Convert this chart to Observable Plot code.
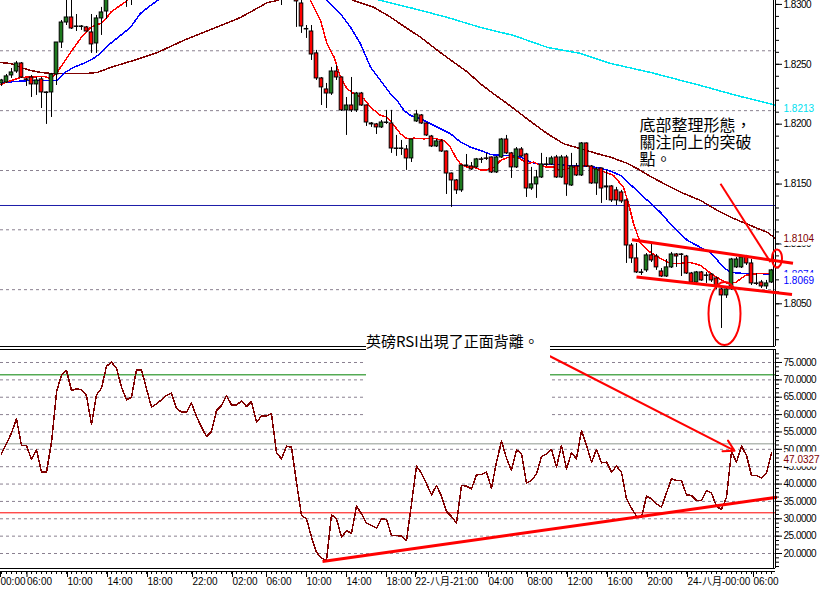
<!DOCTYPE html>
<html>
<head>
<meta charset="utf-8">
<script src="https://cdn.jsdelivr.net/npm/d3@7"></script>
<script src="https://cdn.jsdelivr.net/npm/@observablehq/plot@0.6"></script>
<style>
  html, body { margin: 0; padding: 0; background: #fff; }
  #wrap { position: relative; width: 820px; height: 589px; overflow: hidden; background: #fff; }
  #wrap svg { position: absolute; left: 0; }
  #wrap g[aria-label="y-axis tick label"], #wrap g[aria-label="tag"] { letter-spacing: -0.5px; }
  #wrap g[aria-label="line"] path { shape-rendering: crispEdges; }
  #note { position: absolute; left: 366px; top: 331px; width: 184px; height: 97px; background: #fff;
          font-family: "Noto Sans CJK TC", "Noto Sans CJK SC", sans-serif; font-size: 15px; line-height: 15px;
          padding-top: 2px; box-sizing: border-box; white-space: nowrap; color: #000; }
</style>
</head>
<body>
<div id="wrap"><div id="note">英磅RSI出現了正面背離。</div></div>
<script>
// ---------------- DATA ----------------
// candlesticks (30-minute bars, bar index = position on the time axis)
const candleBar = [0,1,2,3,4,5,6,7,8,9,10,11,12,13,14,15,16,17,18,19,20,21,22,23,24,25,26,
  56,57,58,59,60,61,62,63,64,65,66,67,68,69,70,71,72,73,74,75,76,77,78,79,80,81,82,83,84,85,86,87,88,89,
  90,91,92,93,94,95,96,97,98,99,100,101,102,103,104,105,106,107,108,109,110,111,112,113,114,115,116,117,118,119,
  120,121,122,123,124,125,126,127,128,129,130,131,132,133,134,135,136,137,138,139,140,141,142,143,144,145,146,147,148,149,
  150,151,152,153,154];
const candleOpen = [1.82340,1.82348,1.82407,1.82440,1.82507,1.82374,1.82390,1.82332,1.82374,1.82265,1.82265,1.82415,1.82682,1.82849,1.82891,1.82816,1.82812,1.82808,1.82766,1.82674,1.82883,1.82941,1.83058,1.83200,1.83150,1.83120,1.83080,
  1.83150,1.83100,1.83120,1.83075,1.83008,1.82791,1.82774,1.82591,1.82382,1.82290,1.82256,1.82440,1.82390,1.82115,1.82156,1.82115,1.82256,1.82156,1.82006,1.81998,1.81973,1.82014,1.82006,1.81797,1.81793,1.81789,1.81714,1.82023,1.82073,1.82006,1.81897,1.81814,1.81856,1.81772,
  1.81588,1.81530,1.81447,1.81655,1.81647,1.81639,1.81706,1.81714,1.81722,1.81597,1.81722,1.81872,1.81756,1.81639,1.81789,1.81747,1.81463,1.81497,1.81555,1.81664,1.81664,1.81722,1.81555,1.81722,1.81488,1.81647,1.81572,1.81839,1.81647,1.81505,
  1.81630,1.81472,1.81480,1.81447,1.81430,1.81363,1.80987,1.80879,1.80762,1.80779,1.80904,1.80895,1.80770,1.80728,1.80804,1.80912,1.80912,1.80895,1.80753,1.80678,1.80762,1.80737,1.80745,1.80712,1.80620,1.80570,1.80620,1.80804,1.80804,1.80895,
  1.80837,1.80670,1.80678,1.80645,1.80678];
const candleHigh = [1.82374,1.82415,1.82465,1.82524,1.82515,1.82382,1.82407,1.82390,1.82390,1.82270,1.82424,1.82682,1.82866,1.83050,1.83058,1.82916,1.82824,1.82816,1.82916,1.82908,1.82975,1.83100,1.83284,1.83300,1.83250,1.83200,1.83180,
  1.83250,1.83200,1.83200,1.83117,1.83040,1.82824,1.82824,1.82616,1.82390,1.82340,1.82474,1.82490,1.82395,1.82223,1.82390,1.82265,1.82265,1.82160,1.82014,1.82006,1.82031,1.82115,1.82115,1.81906,1.81864,1.81822,1.81872,1.82115,1.82081,1.82010,1.81906,1.81872,1.81872,1.81776,
  1.81592,1.81538,1.81655,1.81747,1.81680,1.81714,1.81722,1.81756,1.81726,1.81731,1.81881,1.81906,1.81764,1.81805,1.81805,1.81756,1.81639,1.81614,1.81756,1.81722,1.81731,1.81739,1.81739,1.81739,1.81756,1.81672,1.81847,1.81843,1.81655,1.81639,
  1.81634,1.81614,1.81488,1.81472,1.81447,1.81367,1.81004,1.81004,1.80787,1.80920,1.81004,1.80912,1.80795,1.80870,1.80929,1.80920,1.80920,1.80904,1.80762,1.80770,1.80770,1.80762,1.80753,1.80720,1.80628,1.80637,1.80879,1.80887,1.80904,1.80904,
  1.80870,1.80753,1.80695,1.80695,1.80787];
const candleLow = [1.82315,1.82340,1.82382,1.82424,1.82382,1.82315,1.82223,1.82240,1.82131,1.81998,1.82056,1.82323,1.82632,1.82824,1.82791,1.82774,1.82783,1.82766,1.82591,1.82591,1.82741,1.82874,1.83045,1.83100,1.83060,1.82975,1.82991,
  1.82991,1.83050,1.83060,1.82808,1.82758,1.82716,1.82532,1.82365,1.82156,1.82131,1.82240,1.82365,1.82106,1.81906,1.82098,1.82098,1.82148,1.81981,1.81973,1.81914,1.81964,1.81998,1.81756,1.81731,1.81739,1.81614,1.81680,1.82014,1.81998,1.81897,1.81805,1.81805,1.81764,1.81413,
  1.81305,1.81413,1.81430,1.81639,1.81614,1.81630,1.81672,1.81697,1.81588,1.81588,1.81714,1.81747,1.81547,1.81630,1.81722,1.81388,1.81447,1.81380,1.81547,1.81647,1.81655,1.81547,1.81547,1.81397,1.81480,1.81563,1.81563,1.81639,1.81497,1.81405,
  1.81338,1.81363,1.81346,1.81321,1.81338,1.80837,1.80837,1.80753,1.80737,1.80762,1.80845,1.80779,1.80720,1.80720,1.80795,1.80804,1.80728,1.80745,1.80670,1.80670,1.80687,1.80670,1.80678,1.80620,1.80294,1.80545,1.80612,1.80795,1.80795,1.80820,
  1.80653,1.80653,1.80628,1.80620,1.80670];
const candleClose = [1.82365,1.82399,1.82432,1.82507,1.82390,1.82370,1.82332,1.82365,1.82265,1.82260,1.82415,1.82682,1.82849,1.82891,1.82799,1.82812,1.82816,1.82774,1.82666,1.82883,1.82933,1.83058,1.83200,1.83150,1.83120,1.83080,1.83140,
  1.83100,1.83120,1.83080,1.83025,1.82816,1.82795,1.82582,1.82382,1.82307,1.82256,1.82440,1.82390,1.82115,1.82156,1.82115,1.82256,1.82156,1.82014,1.81998,1.81973,1.82014,1.82010,1.81797,1.81793,1.81797,1.81714,1.81872,1.82081,1.82006,1.81906,1.81814,1.81856,1.81772,1.81588,
  1.81530,1.81447,1.81655,1.81651,1.81622,1.81706,1.81702,1.81710,1.81597,1.81722,1.81872,1.81756,1.81639,1.81789,1.81731,1.81463,1.81497,1.81555,1.81664,1.81660,1.81714,1.81555,1.81722,1.81497,1.81647,1.81572,1.81839,1.81647,1.81505,1.81622,
  1.81463,1.81480,1.81363,1.81363,1.81355,1.80987,1.80879,1.80762,1.80758,1.80904,1.80862,1.80804,1.80728,1.80804,1.80912,1.80895,1.80908,1.80753,1.80678,1.80762,1.80695,1.80733,1.80695,1.80645,1.80570,1.80620,1.80870,1.80870,1.80887,1.80837,
  1.80670,1.80666,1.80645,1.80670,1.80779];

// moving averages (bar position, price)
const maFastBar = [-0.2,3.8,8.4,9.8,10.8,11.8,13.8,15.8,17.8,19.8,20.8,21.8,23.2,25.2,27,60.8,61.8,63.8,65.1,66.5,67.8,69.1,70.5,72.5,73.8,75.8,77.1,78.5,79.8,81.1,82.5,84.5,86.5,88.5,89.8,90.8,91.8,93.1,94.5,95.8,97.1,98.5,99.8,101.1,102.5,103.8,105.1,106.5,107.8,109.1,110.5,111.8,113.1,114.5,115.8,117.1,118.5,119.8,122.4,124.4,125.4,126.4,127.8,129.8,131.8,133.8,135.8,137.8,139.8,142.4,145.2,146.8,148.8,151.2,153.8];
const maFastValue = [1.82332,1.82390,1.82399,1.82382,1.82415,1.82474,1.82599,1.82716,1.82808,1.82841,1.82874,1.82933,1.82975,1.83033,1.83158,1.83117,1.83033,1.82866,1.82672,1.82560,1.82393,1.82296,1.82254,1.82212,1.82142,1.82073,1.82059,1.81989,1.81920,1.81878,1.81883,1.81878,1.81881,1.81864,1.81808,1.81725,1.81669,1.81641,1.81641,1.81619,1.81619,1.81641,1.81697,1.81720,1.81725,1.81711,1.81669,1.81683,1.81655,1.81641,1.81641,1.81613,1.81628,1.81641,1.81650,1.81655,1.81628,1.81613,1.81572,1.81472,1.81338,1.81171,1.81004,1.80929,1.80879,1.80837,1.80837,1.80845,1.80820,1.80737,1.80670,1.80678,1.80737,1.80753,1.80753];
const maMidBar = [-0.2,5.8,11.2,12.4,14.4,16.4,18.4,19.8,21.8,23.8,25.8,27.8,29.8,31.2,32.8,63.8,65.1,67.8,69.8,71.8,73.8,75.8,77.8,79.1,80.5,81.8,83.8,85.8,87.8,89.8,91.8,93.8,95.8,97.8,99.8,101.8,103.8,105.8,107.8,109.8,111.8,113.8,115.8,117.8,119.8,121.8,123.8,126.4,129.2,131.8,134.4,137.2,139.8,141.8,143.2,144.4,145.8,148.4,151.8,153.8];
const maMidValue = [1.82348,1.82365,1.82365,1.82424,1.82474,1.82507,1.82549,1.82591,1.82674,1.82741,1.82808,1.82925,1.82991,1.83033,1.83100,1.83117,1.83033,1.82922,1.82810,1.82672,1.82476,1.82365,1.82254,1.82198,1.82115,1.82073,1.82045,1.82004,1.81962,1.81920,1.81850,1.81808,1.81781,1.81747,1.81739,1.81739,1.81725,1.81683,1.81661,1.81664,1.81661,1.81653,1.81655,1.81647,1.81633,1.81608,1.81572,1.81472,1.81363,1.81263,1.81138,1.81029,1.80971,1.80929,1.80862,1.80804,1.80762,1.80753,1.80753,1.80745];
const maSlowBar = [-0.2,1.8,3.8,5.8,7.8,9.8,13.2,17.2,19.2,21.8,26.4,31.2,36.4,42.4,47.8,53.2,55.2,57,68.8,70.4,74.4,77.8,81.2,83.8,87.2,90.4,93.2,95.8,98.4,101.2,103.8,106.4,109.2,112.4,115.8,119.2,121.8,125.2,127.8,129.8,133.2,136.4,139.8,143.2,146.4,149.8,153.2,154.8];
const maSlowValue = [1.82515,1.82507,1.82474,1.82449,1.82432,1.82424,1.82424,1.82424,1.82432,1.82474,1.82532,1.82599,1.82699,1.82799,1.82891,1.83016,1.83033,1.83110,1.83090,1.83033,1.82977,1.82894,1.82797,1.82727,1.82616,1.82518,1.82435,1.82337,1.82254,1.82170,1.82087,1.82004,1.81920,1.81837,1.81795,1.81753,1.81725,1.81672,1.81614,1.81563,1.81488,1.81422,1.81363,1.81280,1.81213,1.81154,1.81096,1.81045];
const maLongBar = [73.8,75.8,82.4,89.2,95.8,102.4,109.2,115.8,121.8,129.8,139.8,147.8,154.8];
const maLongValue = [1.83058,1.83033,1.82966,1.82891,1.82808,1.82741,1.82641,1.82591,1.82507,1.82432,1.82323,1.82231,1.82160];

// RSI, one value per bar
const rsiValue = [48.70,51.58,54.75,58.78,51.10,51.10,47.07,49.86,43.43,43.43,
  52.06,66.46,71.45,72.70,66.94,67.42,67.13,65.50,57.15,65.69,
  67.61,73.94,75.10,73.37,67.90,64.25,65.02,72.89,72.89,67.42,
  62.14,63.10,64.25,65.50,66.17,61.85,60.70,60.70,63.29,59.45,
  56.38,53.69,55.13,61.18,62.62,65.50,62.81,62.81,63.87,62.33,
  63.77,57.82,59.55,59.64,60.22,48.99,47.26,50.91,50.62,40.55,
  30.95,29.99,24.71,20.39,18.67,17.99,31.14,29.99,24.71,26.54,
  25.86,33.64,31.43,28.74,28.07,27.30,29.99,29.80,25.19,25.19,
  25.00,23.75,34.31,45.15,43.14,40.07,36.90,39.59,36.52,32.10,
  30.66,28.74,39.59,39.40,38.63,42.66,42.75,43.43,38.82,46.31,
  52.35,47.46,43.91,49.86,48.70,40.26,41.03,42.95,47.94,48.70,
  49.95,44.87,51.10,44.39,48.99,47.26,55.42,51.10,46.31,49.95,
  46.11,46.31,43.43,45.15,43.43,35.75,33.06,30.76,30.47,36.52,
  35.75,34.31,33.35,37.48,41.51,41.03,41.03,36.90,36.71,35.27,
  35.27,38.15,37.38,33.54,32.68,36.23,49.38,46.31,50.91,48.22,
  42.47,42.47,41.70,43.24,48.99];

// horizontal levels
const priceGrid = [1.82613,1.82113,1.81613,1.81118,1.80618];
const priceHLine = [1.81321];
const rsiGrid = [75,70,65,60,55,50,45,40,35,30,25,20];
const rsiLevelValue = [71.45, 51.58, 31.72];
const rsiLevelColor = ["#008000", "#8f988f", "#ff0000"];

// axis ticks and labels
const priceTicks = [1.8050,1.8100,1.8150,1.8200,1.8250,1.8300];
const rsiTicks = [20,25,30,35,40,45,50,55,60,65,70,75];
const priceTagValue = [1.82130, 1.81040, 1.80741, 1.80690];
const priceTagText = ["1.8213", "1.8104", "1.8074", "1.8069"];
const priceTagColor = ["#00e0f0", "#800000", "#0000ff", "#0000ff"];
const rsiTagValue = [47.0327];
const rsiTagText = ["47.0327"];
const timeTickBar = [-0.2,5.1,13.2,21.2,29.2,38.2,46.2,53,61,69,77,82.8,97.4,105.2,113.2,121.2,129.2,137.2,150.4];
const timeTickLabel = ["00:00","06:00","10:00","14:00","18:00","22:00","02:00","06:00","10:00","14:00","18:00",
  "22-八月-21:00","04:00","08:00","12:00","16:00","20:00","24-八月-00:00","06:00"];

// hand-drawn annotations
const priceLineBar1 = [126.1, 127.0, 143.8];
const priceLineValue1 = [1.81035, 1.80723, 1.81502];
const priceLineBar2 = [158.3, 158.1, 153.8];
const priceLineValue2 = [1.80839, 1.80578, 1.80848];
const priceLineWidth = [3, 3, 2];
const ellipseBar = [155.1, 144.6];
const ellipseValue = [1.80879, 1.80419];
const priceNote = "底部整理形態，\n關注向上的突破\n點。";
const priceNoteBar = 127.6, priceNoteValue = 1.82043;
const rsiTrendBar = [64.2, 155.1], rsiTrendValue = [17.7, 36.2];
const rsiArrowBar = [109.7, 146.6], rsiArrowValue = [76.8, 49.6];

// ---------------- CHART ----------------
const xDomain = [-0.2, 154.8];
const priceDomain = [1.801434, 1.830328];
const rsiDomain = [15.685, 78.743];
const BULL = "#1d7a1d", BEAR = "#ff0000";
const baseStyle = {background: "transparent", overflow: "visible", fontFamily: "'Liberation Sans', Arial, 'Noto Sans CJK SC', sans-serif", fontSize: "10px", color: "#000"};

const candles = candleBar.map((b, i) => ({bar: b, open: candleOpen[i], high: candleHigh[i], low: candleLow[i], close: candleClose[i]}));
const pts = (bars, vals) => bars.map((b, i) => ({bar: b, value: vals[i]}));
const priceLines = priceLineBar1.map((b, i) => ({b1: b, v1: priceLineValue1[i], b2: priceLineBar2[i], v2: priceLineValue2[i], w: priceLineWidth[i]}));

function ellipseSymbol(rx, ry) {
  const k = 0.5522847498;
  return {draw(ctx) {
    ctx.moveTo(rx, 0);
    ctx.bezierCurveTo(rx, ry * k, rx * k, ry, 0, ry);
    ctx.bezierCurveTo(-rx * k, ry, -rx, ry * k, -rx, 0);
    ctx.bezierCurveTo(-rx, -ry * k, -rx * k, -ry, 0, -ry);
    ctx.bezierCurveTo(rx * k, -ry, rx, -ry * k, rx, 0);
    ctx.closePath();
  }};
}

const topChart = Plot.plot({
  width: 820, height: 347, marginLeft: 0, marginRight: 45, marginTop: 0, marginBottom: 1,
  x: {domain: xDomain, axis: null},
  y: {domain: priceDomain, axis: null},
  style: baseStyle,
  marks: [
    Plot.ruleY(priceGrid, {stroke: "#8a8090", strokeDasharray: "3,3"}),
    Plot.ruleY(priceHLine, {stroke: "#1c1ca8"}),
    Plot.line(pts(maLongBar, maLongValue), {x: "bar", y: "value", stroke: "#00e5f0", clip: true}),
    Plot.line(pts(maSlowBar, maSlowValue), {x: "bar", y: "value", stroke: "#800000", clip: true}),
    Plot.line(pts(maMidBar, maMidValue), {x: "bar", y: "value", stroke: "#0000ff", clip: true}),
    Plot.line(pts(maFastBar, maFastValue), {x: "bar", y: "value", stroke: "#ff0000", clip: true}),
    Plot.ruleX(candles, {x: "bar", y1: "low", y2: "high", stroke: "#000", clip: true}),
    Plot.rect(candles, {x1: d => d.bar - 0.36, x2: d => d.bar + 0.36, y1: "open", y2: "close",
      fill: d => d.close >= d.open ? BULL : BEAR, stroke: "#000", clip: true}),
    Plot.text([priceNote], {x: priceNoteBar, y: priceNoteValue, text: d => d, textAnchor: "start", lineAnchor: "top",
      lineHeight: 1.07, fontSize: 16, fontFamily: "'Noto Sans CJK TC', 'Noto Sans CJK SC', sans-serif", fill: "#000"}),
    // right price axis
    Plot.axisY({anchor: "right", label: null, ticks: d3.range(1.802, 1.8305, 0.001), tickSize: 3, tickFormat: () => ""}),
    Plot.axisY({anchor: "right", label: null, ticks: priceTicks, tickSize: 6, tickPadding: 2, tickFormat: d => d.toFixed(4)}),
    Plot.text(priceTagValue, {y: d => d, text: (d, i) => priceTagText[i], fill: (d, i) => priceTagColor[i], ariaLabel: "tag",
      frameAnchor: "right", dx: 8, textAnchor: "start", stroke: "#fff", strokeWidth: 7, paintOrder: "stroke"}),
    // frame
    Plot.ruleX([154.4, 154.8], {stroke: "#000"}),
    Plot.ruleY([priceDomain[0]], {stroke: "#000"}),
    // annotations
    Plot.link(priceLines, {x1: "b1", y1: "v1", x2: "b2", y2: "v2", stroke: "#ff0000", strokeWidth: "w"}),
    Plot.dot([0], {x: ellipseBar[0], y: ellipseValue[0], symbol: ellipseSymbol(5, 9), stroke: "#ff0000", strokeWidth: 2, fill: "none"}),
    Plot.dot([0], {x: ellipseBar[1], y: ellipseValue[1], symbol: ellipseSymbol(16, 31.5), stroke: "#ff0000", strokeWidth: 2, fill: "none"})
  ]
});

const rsiLevels = rsiLevelValue.map((v, i) => ({value: v, color: rsiLevelColor[i]}));
const bottomChart = Plot.plot({
  width: 820, height: 242, marginLeft: 0, marginRight: 45, marginTop: 2, marginBottom: 21,
  x: {domain: xDomain, axis: null},
  y: {domain: rsiDomain, axis: null},
  style: baseStyle,
  marks: [
    Plot.ruleY(rsiGrid, {stroke: "#8a8090", strokeDasharray: "3,3"}),
    Plot.ruleY(rsiLevels, {y: "value", stroke: "color"}),
    Plot.line(rsiValue.map((v, i) => ({bar: i, value: v})), {x: "bar", y: "value", stroke: "#800000", clip: true}),
    Plot.link([0], {x1: rsiTrendBar[0], y1: rsiTrendValue[0], x2: rsiTrendBar[1], y2: rsiTrendValue[1], stroke: "#ff0000", strokeWidth: 3}),
    Plot.arrow([0], {x1: rsiArrowBar[0], y1: rsiArrowValue[0], x2: rsiArrowBar[1], y2: rsiArrowValue[1], stroke: "#ff0000", strokeWidth: 2, headLength: 9}),
    // right RSI axis
    Plot.axisY({anchor: "right", label: null, ticks: d3.range(16.25, 78, 1.25), tickSize: 3, tickFormat: () => ""}),
    Plot.axisY({anchor: "right", label: null, ticks: rsiTicks, tickSize: 6, tickPadding: 2, tickFormat: d => d.toFixed(4)}),
    Plot.text(rsiTagValue, {y: d => d, text: (d, i) => rsiTagText[i], fill: "#800000", ariaLabel: "tag",
      frameAnchor: "right", dx: 8, textAnchor: "start", stroke: "#fff", strokeWidth: 7, paintOrder: "stroke"}),
    // bottom time axis
    Plot.axisX({anchor: "bottom", label: null, ticks: d3.range(0, 155, 1), tickSize: 3, dy: 3, tickFormat: () => ""}),
    Plot.axisX({anchor: "bottom", label: null, ticks: timeTickBar, tickSize: 6, dy: 3, tickFormat: () => ""}),
    Plot.text(timeTickBar, {x: d => d, text: (d, i) => timeTickLabel[i], ariaLabel: "tag", frameAnchor: "bottom", dy: 16, textAnchor: "start"}),
    // frame
    Plot.ruleX([154.4, 154.8], {stroke: "#000"}),
    Plot.ruleY([rsiDomain[0], rsiDomain[1]], {stroke: "#000"}),
    Plot.ruleY([rsiDomain[0]], {stroke: "#000", dy: 3})
  ]
});

const wrap = document.getElementById("wrap");
topChart.style.top = "0px";
bottomChart.style.top = "347px";
wrap.insertBefore(bottomChart, wrap.firstChild);
wrap.insertBefore(topChart, wrap.firstChild);
</script>
</body>
</html>
